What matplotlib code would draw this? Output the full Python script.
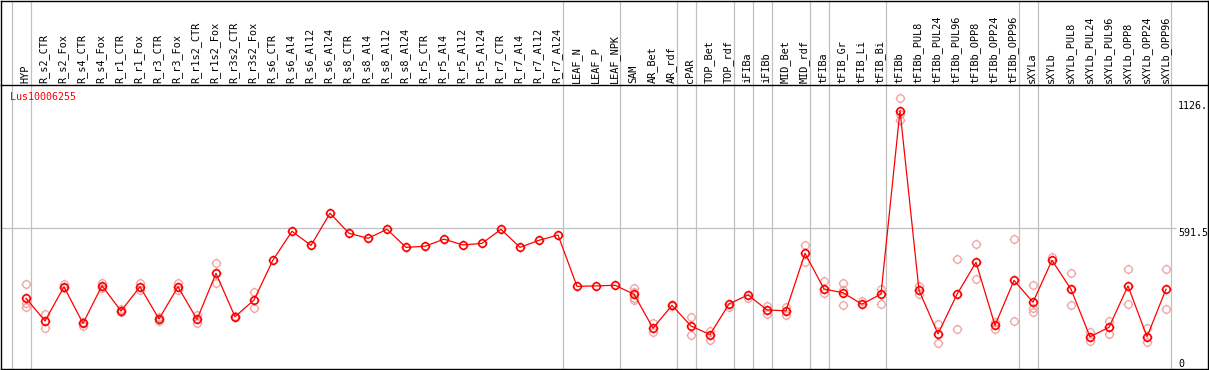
import matplotlib
matplotlib.use("Agg")
import matplotlib.pyplot as plt
from matplotlib.path import Path
import numpy as np

gene = "Lus10006255"

samples = [
    "HYP", "R_s2_CTR", "R_s2_Fox", "R_s4_CTR", "R_s4_Fox", "R_r1_CTR", "R_r1_Fox",
    "R_r3_CTR", "R_r3_Fox", "R_r1s2_CTR", "R_r1s2_Fox", "R_r3s2_CTR", "R_r3s2_Fox",
    "R_s6_CTR", "R_s6_Al4", "R_s6_Al12", "R_s6_Al24", "R_s8_CTR", "R_s8_Al4",
    "R_s8_Al12", "R_s8_Al24", "R_r5_CTR", "R_r5_Al4", "R_r5_Al12", "R_r5_Al24",
    "R_r7_CTR", "R_r7_Al4", "R_r7_Al12", "R_r7_Al24", "LEAF_N", "LEAF_P", "LEAF_NPK",
    "SAM", "AR_Bet", "AR_rdf", "cPAR", "TOP_Bet", "TOP_rdf", "iFIBa", "iFIBb",
    "MID_Bet", "MID_rdf", "tFIBa", "tFIB_Gr", "tFIB_Li", "tFIB_Bi", "tFIBb",
    "tFIBb_PUL8", "tFIBb_PUL24", "tFIBb_PUL96", "tFIBb_OPP8", "tFIBb_OPP24",
    "tFIBb_OPP96", "sXYLa", "sXYLb", "sXYLb_PUL8", "sXYLb_PUL24", "sXYLb_PUL96",
    "sXYLb_OPP8", "sXYLb_OPP24", "sXYLb_OPP96",
]

means = [
    274, 171, 326, 160, 331, 216, 326, 180, 326, 178, 387, 190, 266,
    448, 578, 514, 660, 569, 546, 587, 505, 510, 542, 516, 523, 587, 505, 537, 561,
    328, 330, 333,
    292, 138, 242, 148, 109, 248, 289, 221, 217, 478, 316, 299, 247, 293,
    1126, 310, 112, 292, 437, 151, 355,
    256, 446, 315, 99, 142, 330, 99, 315,
]

# individual replicates (pale circles)
replicates = [
    [337, 251, 236], [201, 138], [337, 319], [168, 149], [342, 322], [225, 210],
    [342, 311], [190, 171], [342, 311], [198, 160], [433, 342], [193, 187], [301, 228],
    [], [], [], [], [], [], [], [], [], [], [], [], [], [], [], [],
    [], [], [],
    [319, 304, 274, 266], [160, 122], [239], [188, 107], [127, 84], [233], [274],
    [239, 202], [233, 198], [516, 440], [354, 296], [342, 311, 243], [263], [315, 248],
    [1183, 1083, 1112], [331, 292], [156, 69], [451, 133], [520, 360], [165, 136], [543, 171],
    [334, 228, 210], [461], [389, 242], [122, 81], [172, 112], [407, 248], [138, 74], [407, 224],
]

# index of the last sample in each group
group_last = [0, 28, 31, 34, 35, 37, 38, 39, 41, 42, 45, 52, 53, 60]

y_mid = 591.5
y_labels = [(1126, "1126.", "bottom"), (591.5, "591.5", "top"), (0, "0", "top")]

W, H = 1209, 370
fig = plt.figure(figsize=(W / 100, H / 100), dpi=100)
plt.rcParams["font.family"] = "DejaVu Sans Mono"

# pixel geometry of the original chart
x0_px, step_px = 26, 19
zero_px, mid_px = 358.6, 228.3
scale = y_mid / (zero_px - mid_px)
left, right, sep, bottom = 1, 1207.5, 85, 369
xlim = ((left - x0_px) / step_px, (right - x0_px) / step_px)

ax_h = fig.add_axes([left / W, 1 - sep / H, (right - left) / W, (sep - 0.5) / H])
ax = fig.add_axes([left / W, 1 - bottom / H, (right - left) / W, (bottom - sep) / H])

for a in (ax_h, ax):
    a.set_xlim(*xlim)
    a.set_xticks([])
    a.set_yticks([])
    for s in a.spines.values():
        s.set_linewidth(1.0)
        s.set_color("black")
ax_h.spines["bottom"].set_visible(False)
ax_h.set_ylim(0, sep)
ax.set_ylim((zero_px - bottom) * scale, (zero_px - sep) * scale)

# group separators
seps = [-0.75] + [g + 0.25 for g in group_last]
for a in (ax_h, ax):
    for s in seps:
        a.axvline(s, color="#c0c0c0", lw=0.9, zorder=0)
ax.hlines(y_mid, xlim[0], (1176 - x0_px) / step_px, color="#c0c0c0", lw=0.9, zorder=0)

# sample labels
for i, name in enumerate(samples):
    ax_h.text(i - 0.05, 2, name, rotation=90, ha="center", va="bottom",
              fontsize=7.4, color="black")

# marker: circle with four small ticks
t = np.linspace(0, 2 * np.pi, 33)
verts = [(np.cos(a), np.sin(a)) for a in t]
codes = [Path.MOVETO] + [Path.LINETO] * (len(t) - 1)
for dx, dy in [(0, 1), (0, -1), (1, 0), (-1, 0)]:
    verts += [(dx, dy), (dx * 1.3, dy * 1.3)]
    codes += [Path.MOVETO, Path.LINETO]
gear = Path(verts, codes)

xs = list(range(len(samples)))
for i, reps in enumerate(replicates):
    if reps:
        ax.plot([i] * len(reps), reps, linestyle="none", marker=gear, markersize=7.0,
                markerfacecolor="none", markeredgecolor="#f0a0a0", markeredgewidth=0.9,
                zorder=2)
ax.plot(xs, means, color="#ff0000", lw=0.9, zorder=3)
ax.plot(xs, means, linestyle="none", marker=gear, markersize=7.0,
        markerfacecolor="none", markeredgecolor="#ff0000", markeredgewidth=1.2, zorder=4)

# value labels on the right
x_lab = (1178 - x0_px) / step_px
for val, txt, va in y_labels:
    ax.text(x_lab, val, txt, ha="left", va=va, fontsize=7.2, color="black")

fig.text(10 / W, 1 - 97 / H, gene, ha="left", va="center", fontsize=7.2, color="#ff0000")

fig.savefig("out.png", dpi=100)
